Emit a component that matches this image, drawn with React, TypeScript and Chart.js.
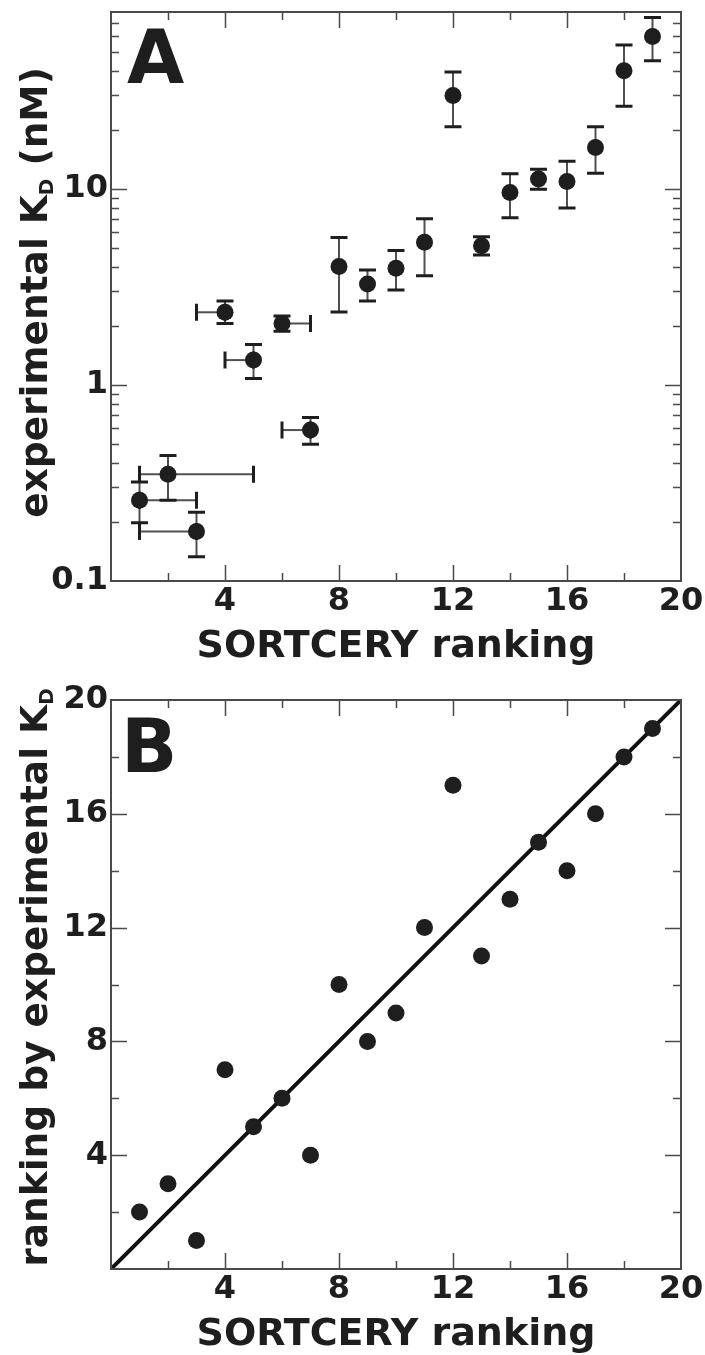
import React, { useEffect, useRef } from 'react';
import { Chart, registerables } from 'chart.js';
Chart.register(...registerables);

// ---------- DATA ----------
const sortceryRank = [1, 2, 3, 4, 5, 6, 7, 8, 9, 10, 11, 12, 13, 14, 15, 16, 17, 18, 19];
const kdValue = [0.258, 0.35, 0.179, 2.35, 1.34, 2.06, 0.589, 4.02, 3.28, 3.94, 5.35, 30.0, 5.14, 9.59, 11.26, 10.91, 16.27, 40.1, 60.0];
const kdLow = [0.198, 0.258, 0.133, 2.06, 1.08, 1.88, 0.499, 2.36, 2.68, 3.05, 3.61, 20.8, 4.61, 7.14, 9.97, 8.01, 12.04, 26.4, 45.1];
const kdHigh = [0.32, 0.437, 0.224, 2.68, 1.61, 2.25, 0.683, 5.65, 3.86, 4.85, 7.06, 39.5, 5.71, 11.98, 12.62, 13.87, 20.8, 54.3, 75.1];
const rankLow = [1, 1, 1, 3, 4, 6, 6, 8, 9, 10, 11, 12, 13, 14, 15, 16, 17, 18, 19];
const rankHigh = [3, 5, 3, 4, 5, 7, 7, 8, 9, 10, 11, 12, 13, 14, 15, 16, 17, 18, 19];
const experimentalRank = [2, 3, 1, 7, 5, 6, 4, 10, 8, 9, 12, 17, 11, 13, 15, 14, 16, 18, 19];
const identityLine = [0, 20];

const xMajorTicks = [4, 8, 12, 16, 20];
const xTickLabels = ['4', '8', '12', '16', '20'];
const xMinorTicks = [2, 6, 10, 14, 18];
const yMajorTicksA = [0.1, 1, 10];
const yTickLabelsA = ['0.1', '1', '10'];
const yMinorTicksA = [0.2, 0.3, 0.4, 0.5, 0.6, 0.7, 0.8, 0.9, 2, 3, 4, 5, 6, 7, 8, 9, 20, 30, 40, 50, 60, 70, 80];
const yMajorTicksB = [4, 8, 12, 16, 20];
const yTickLabelsB = ['4', '8', '12', '16', '20'];
const yMinorTicksB = [2, 6, 10, 14, 18];

// ---------- STYLE ----------
const FONT = '"DejaVu Sans", sans-serif';
const INK = '#1e1e1e';
const AXIS = '#4a4a4a';
const W = 705;
const OFF_A = -18; // canvas A top on page
const HA = 686; // canvas A height
const BOTTOM_A = 581 - OFF_A; // chart bottom in canvas A
const TOP_B = 668;
const HB = 687;
const BOTTOM_B = 1269 - TOP_B;

type TitlePart = { text: string; size: number; dy: number };

function drawRotatedTitle(ctx: CanvasRenderingContext2D, parts: TitlePart[], bx: number, cy: number) {
  ctx.save();
  ctx.translate(bx, cy);
  ctx.rotate(-Math.PI / 2);
  ctx.fillStyle = INK;
  ctx.textBaseline = 'alphabetic';
  ctx.textAlign = 'left';
  let total = 0;
  const widths = parts.map((p) => {
    ctx.font = `bold ${p.size}px ${FONT}`;
    const w = ctx.measureText(p.text).width;
    total += w;
    return w;
  });
  let x = -total / 2;
  parts.forEach((p, i) => {
    ctx.font = `bold ${p.size}px ${FONT}`;
    ctx.fillText(p.text, x, p.dy);
    x += widths[i];
  });
  ctx.restore();
}

function makeDecorPlugin(opts: {
  letter: string;
  letterX: number;
  letterY: number;
  yTitle: TitlePart[];
  yTitleX: number;
  yTitleShift: number;
  xTitleY: number;
  yMajor: number[];
  yMinor: number[];
  errorBars: boolean;
}) {
  return {
    id: 'decor' + opts.letter,
    beforeDatasetsDraw(chart: any) {
      if (!opts.errorBars) return;
      const ctx = chart.ctx as CanvasRenderingContext2D;
      const xs = chart.scales.x;
      const ys = chart.scales.y;
      const cap = 8.5;
      ctx.save();
      sortceryRank.forEach((r, i) => {
        const px = xs.getPixelForValue(r);
        const py = ys.getPixelForValue(kdValue[i]);
        const yl = ys.getPixelForValue(kdLow[i]);
        const yh = ys.getPixelForValue(kdHigh[i]);
        ctx.strokeStyle = '#505050';
        ctx.lineWidth = 2;
        ctx.beginPath();
        ctx.moveTo(px, yl);
        ctx.lineTo(px, yh);
        ctx.stroke();
        ctx.strokeStyle = INK;
        ctx.lineWidth = 3;
        ctx.beginPath();
        ctx.moveTo(px - cap, yl);
        ctx.lineTo(px + cap, yl);
        ctx.moveTo(px - cap, yh);
        ctx.lineTo(px + cap, yh);
        ctx.stroke();
        if (rankLow[i] !== rankHigh[i]) {
          const xl = xs.getPixelForValue(rankLow[i]);
          const xh = xs.getPixelForValue(rankHigh[i]);
          ctx.strokeStyle = '#505050';
          ctx.lineWidth = 2;
          ctx.beginPath();
          ctx.moveTo(xl, py);
          ctx.lineTo(xh, py);
          ctx.stroke();
          ctx.strokeStyle = INK;
          ctx.lineWidth = 3;
          ctx.beginPath();
          ctx.moveTo(xl, py - cap);
          ctx.lineTo(xl, py + cap);
          ctx.moveTo(xh, py - cap);
          ctx.lineTo(xh, py + cap);
          ctx.stroke();
        }
      });
      ctx.restore();
    },
    afterDraw(chart: any) {
      const ctx = chart.ctx as CanvasRenderingContext2D;
      const { left, right, top, bottom } = chart.chartArea;
      const xs = chart.scales.x;
      const ys = chart.scales.y;
      ctx.save();
      // ticks (inward, all four sides)
      ctx.strokeStyle = AXIS;
      ctx.lineWidth = 1.5;
      const major = 16;
      const minor = 8;
      ctx.beginPath();
      [...xMajorTicks.map((v) => [v, major]), ...xMinorTicks.map((v) => [v, minor])].forEach(([v, len]) => {
        const px = Math.round(xs.getPixelForValue(v)) + 0.5;
        if (px > right - 1) return;
        ctx.moveTo(px, bottom);
        ctx.lineTo(px, bottom - len);
        ctx.moveTo(px, top);
        ctx.lineTo(px, top + len);
      });
      [...opts.yMajor.map((v) => [v, major]), ...opts.yMinor.map((v) => [v, minor])].forEach(([v, len]) => {
        const py = Math.round(ys.getPixelForValue(v)) + 0.5;
        if (py < top + 1 || py > bottom - 1) return;
        ctx.moveTo(left, py);
        ctx.lineTo(left + len, py);
        ctx.moveTo(right, py);
        ctx.lineTo(right - len, py);
      });
      ctx.stroke();
      // frame
      ctx.strokeStyle = AXIS;
      ctx.lineWidth = 2;
      ctx.strokeRect(left, top, right - left, bottom - top);
      // panel letter
      ctx.fillStyle = INK;
      ctx.font = `bold 74px ${FONT}`;
      ctx.textAlign = 'left';
      ctx.textBaseline = 'alphabetic';
      ctx.fillText(opts.letter, opts.letterX, opts.letterY);
      // x title
      ctx.font = `bold 38px ${FONT}`;
      ctx.textAlign = 'center';
      ctx.fillText('SORTCERY ranking', (left + right) / 2, opts.xTitleY);
      ctx.restore();
      // y title
      drawRotatedTitle(ctx, opts.yTitle, opts.yTitleX, (top + bottom) / 2 + opts.yTitleShift);
    },
  };
}

const tickFont = { family: FONT, size: 32, weight: 'bold' as const };

function baseScales(yScale: any, yLabels: string[], yTicks: number[], canvasH: number, bottomPx: number) {
  return {
    x: {
      type: 'linear',
      min: 0,
      max: 20,
      afterBuildTicks: (s: any) => {
        s.ticks = xMajorTicks.map((v) => ({ value: v }));
      },
      afterFit: (s: any) => {
        s.height = canvasH - bottomPx;
      },
      grid: { display: false, drawTicks: false },
      border: { display: false },
      ticks: {
        font: tickFont,
        color: INK,
        padding: 1,
        maxRotation: 0,
        autoSkip: false,
        callback: (_v: any, i: number) => xTickLabels[i],
      },
    },
    y: {
      ...yScale,
      afterBuildTicks: (s: any) => {
        s.ticks = yTicks.map((v) => ({ value: v }));
      },
      afterFit: (s: any) => {
        s.width = 111;
      },
      grid: { display: false, drawTicks: false },
      border: { display: false },
      ticks: {
        font: tickFont,
        color: INK,
        padding: 3,
        autoSkip: false,
        callback: (_v: any, i: number) => yLabels[i],
      },
    },
  };
}

export default function App() {
  const refA = useRef<HTMLCanvasElement>(null);
  const refB = useRef<HTMLCanvasElement>(null);

  useEffect(() => {
    const chartA = new Chart(refA.current as HTMLCanvasElement, {
      type: 'scatter',
      data: {
        datasets: [
          {
            data: sortceryRank.map((x, i) => ({ x, y: kdValue[i] })),
            pointRadius: 8.5,
            pointHoverRadius: 8.5,
            backgroundColor: INK,
            borderWidth: 0,
          },
        ],
      },
      options: {
        animation: false,
        responsive: false,
        devicePixelRatio: 1,
        layout: { padding: { top: 12 - OFF_A, right: W - 681, left: 0, bottom: 0 } },
        plugins: { legend: { display: false }, tooltip: { enabled: false } },
        scales: baseScales({ type: 'logarithmic', min: 0.1, max: 80 }, yTickLabelsA, yMajorTicksA, HA, BOTTOM_A) as any,
      } as any,
      plugins: [
        makeDecorPlugin({
          letter: 'A',
          letterX: 127,
          letterY: 83 - OFF_A,
          yTitle: [
            { text: 'experimental K', size: 37.5, dy: 0 },
            { text: 'D', size: 20, dy: 6 },
            { text: ' (nM)', size: 37.5, dy: 0 },
          ],
          yTitleX: 47,
          yTitleShift: -4,
          xTitleY: 657 - OFF_A,
          yMajor: yMajorTicksA,
          yMinor: yMinorTicksA,
          errorBars: true,
        }),
      ],
    });

    const chartB = new Chart(refB.current as HTMLCanvasElement, {
      type: 'scatter',
      data: {
        datasets: [
          {
            data: sortceryRank.map((x, i) => ({ x, y: experimentalRank[i] })),
            pointRadius: 8.5,
            pointHoverRadius: 8.5,
            backgroundColor: INK,
            borderWidth: 0,
            order: 0,
          },
          {
            type: 'line',
            data: identityLine.map((v) => ({ x: v, y: v })),
            borderColor: '#111',
            borderWidth: 4,
            pointRadius: 0,
            fill: false,
            order: 1,
          } as any,
        ],
      },
      options: {
        animation: false,
        responsive: false,
        devicePixelRatio: 1,
        layout: { padding: { top: 700 - TOP_B, right: W - 681, left: 0, bottom: 0 } },
        plugins: { legend: { display: false }, tooltip: { enabled: false } },
        scales: baseScales({ type: 'linear', min: 0, max: 20 }, yTickLabelsB, yMajorTicksB, HB, BOTTOM_B) as any,
      } as any,
      plugins: [
        makeDecorPlugin({
          letter: 'B',
          letterX: 121,
          letterY: 772 - TOP_B,
          yTitle: [
            { text: 'ranking by experimental K', size: 37.5, dy: 0 },
            { text: 'D', size: 20, dy: 6 },
          ],
          yTitleX: 47,
          yTitleShift: -7,
          xTitleY: 1345 - TOP_B,
          yMajor: yMajorTicksB,
          yMinor: yMinorTicksB,
          errorBars: false,
        }),
      ],
    });

    return () => {
      chartA.destroy();
      chartB.destroy();
    };
  }, []);

  return (
    <div style={{ position: 'absolute', left: 0, top: 0, width: W, height: 1355, overflow: 'hidden', background: '#fff' }}>
      <canvas ref={refA} width={W} height={HA} style={{ position: 'absolute', left: 0, top: OFF_A, width: W, height: HA }} />
      <canvas ref={refB} width={W} height={HB} style={{ position: 'absolute', left: 0, top: TOP_B, width: W, height: HB }} />
    </div>
  );
}
